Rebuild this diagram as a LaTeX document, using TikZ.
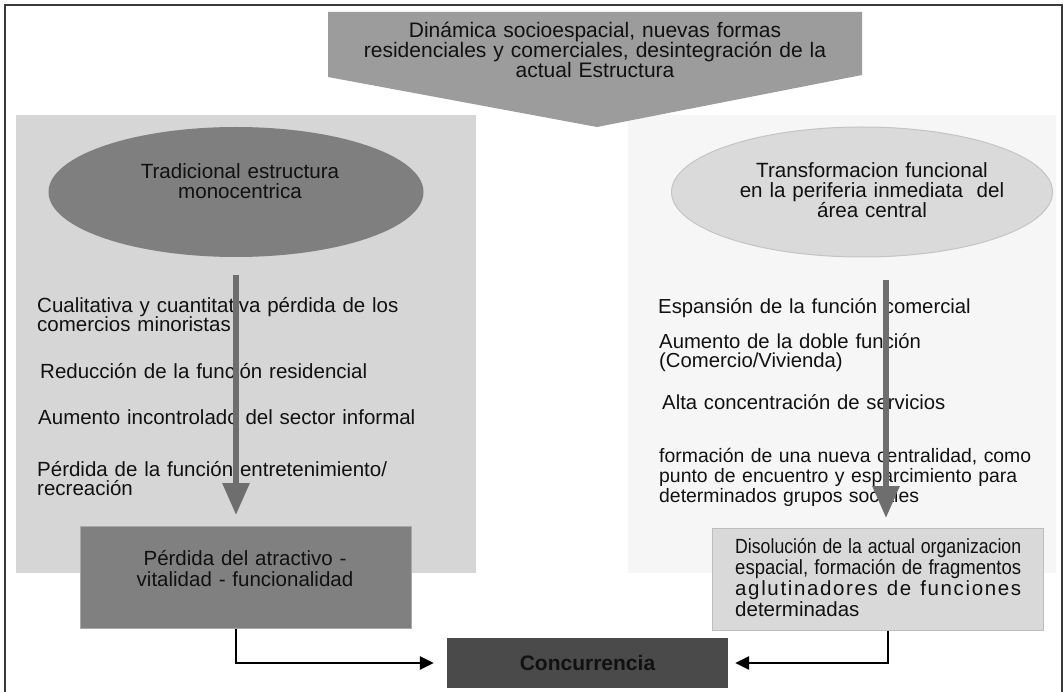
\documentclass[tikz,border=0pt]{standalone}
\usepackage{fontspec}
\setmainfont{Liberation Sans}
\usetikzlibrary{arrows.meta,shapes.geometric}
\definecolor{framec}{HTML}{3A3A3A}
\definecolor{bannerc}{HTML}{9C9C9C}
\definecolor{panelL}{HTML}{D6D6D6}
\definecolor{panelR}{HTML}{F6F6F6}
\definecolor{ellL}{HTML}{7F7F7F}
\definecolor{ellR}{HTML}{DADADA}
\definecolor{ellRb}{HTML}{C4C4C4}
\definecolor{arrowc}{HTML}{6E6E6E}
\definecolor{boxLc}{HTML}{808080}
\definecolor{boxLb}{HTML}{A8A8A8}
\definecolor{boxRc}{HTML}{D9D9D9}
\definecolor{boxRb}{HTML}{BDBDBD}
\definecolor{concc}{HTML}{4A4A4A}
\definecolor{txt}{HTML}{111111}
\newcommand\sqline[1]{\resizebox{286pt}{\height}{#1}}
\begin{document}
\begin{tikzpicture}[x=1pt,y=-1pt,
  font=\fontsize{20.5}{20}\selectfont, text=txt,
  lst/.style={anchor=base west, inner sep=0pt, text width=440pt, align=left},
  ctr/.style={anchor=base, inner sep=0pt, text width=540pt, align=center},
  bigarrow/.style={draw=arrowc, line width=6pt, -{Triangle[length=32pt,width=26pt]}},
  conn/.style={draw=black, line width=2.5pt, -{Triangle[length=14pt,width=13pt]}}]
\useasboundingbox (0,0) rectangle (1064,692);
\fill[white] (0,0) rectangle (1064,692);
% frame
\draw[line width=2pt, framec] (5,692) -- (5,5) -- (1062,5) -- (1062,692);
% panels
\fill[panelL] (16,115) rectangle (476,573);
\fill[panelR] (628,115) rectangle (1056,573);
% banner
\fill[bannerc] (328,12) -- (862,12) -- (862,75) -- (597,127) -- (328,77) -- cycle;
\node[ctr, font=\fontsize{21}{20}\selectfont] (banner) at (595,38)
  {Dinámica socioespacial, nuevas formas\\residenciales y comerciales, desintegración de la\\actual Estructura};
% ellipses
\node[ellipse, fill=ellL, minimum width=375pt, minimum height=130pt, inner sep=0pt] (eL) at (236,192) {};
\node[ctr, text width=360pt, font=\fontsize{20.6}{20}\selectfont] (teL) at (240,179) {Tradicional estructura\\monocentrica};
\node[ellipse, fill=ellR, draw=ellRb, line width=1pt, minimum width=381pt, minimum height=130pt, inner sep=0pt] (eR) at (862,192) {};
\node[ctr, text width=360pt, font=\fontsize{20.6}{20}\selectfont] (teR) at (872,178) {Transformacion funcional\\en la periferia inmediata\ \ del\\área central};
% boxes
\node[fill=boxLc, draw=boxLb, line width=1pt, minimum width=331pt, minimum height=102pt, anchor=north west, inner sep=0pt] (bL) at (80,526) {};
\node[ctr, text width=320pt, font=\fontsize{20.5}{21}\selectfont] (tbL) at (245,565) {Pérdida del atractivo -\\vitalidad - funcionalidad};
\node[fill=boxRc, draw=boxRb, line width=1pt, minimum width=331pt, minimum height=102pt, anchor=north west, inner sep=0pt] (bR) at (712,528) {};
\node[lst, text width=290pt, font=\fontsize{20.5}{21.3}\selectfont] (tbR) at (735,553)
  {\sqline{Disolución de la actual organizacion}\\
   \sqline{espacial, formación de fragmentos}\\
   \makebox[286pt][l]{\addfontfeature{LetterSpace=8}aglutinadores\hfill{} de\hfill{} funciones}\\
   determinadas};
\node[fill=concc, minimum width=281pt, minimum height=50pt, inner sep=0pt, font=\bfseries\fontsize{21}{20}\selectfont] (conc) at (587.5,663) {Concurrencia};
% left list
\node[lst] (l1) at (37,312) {Cualitativa y cuantitativa pérdida de los\\comercios minoristas};
\node[lst] (l2) at (40,378) {Reducción de la función residencial};
\node[lst] (l3) at (38,424) {Aumento incontrolado del sector informal};
\node[lst, font=\fontsize{20.5}{19}\selectfont] (l4) at (37,476) {Pérdida de la función entretenimiento/\\recreación};
% right list
\node[lst, font=\fontsize{20.3}{19}\selectfont] (r1) at (658,313) {Espansión de la función comercial};
\node[lst, font=\fontsize{20.3}{19}\selectfont] (r2) at (659,348) {Aumento de la doble función\\(Comercio/Vivienda)};
\node[lst, font=\fontsize{20.3}{19}\selectfont] (r3) at (662,409) {Alta concentración de servicios};
\node[lst, font=\fontsize{19.4}{20}\selectfont] (r4) at (659,462) {formación de una nueva centralidad, como\\punto de encuentro y esparcimiento para\\determinados grupos sociales};
% vertical arrows
\coordinate (aL) at (236,275);
\coordinate (aR) at (886,280);
\draw[bigarrow, shorten >=11pt] (aL) -- (aL |- bL.north);
\draw[bigarrow, shorten >=10pt] (aR) -- (aR |- bR.north);
% connectors
\coordinate (cL) at (236,0);
\coordinate (cR) at (888,0);
\draw[conn, shorten >=13pt] (cL |- bL.south) |- (conc.west);
\draw[conn, shorten >=7pt] (cR |- bR.south) |- (conc.east);
\end{tikzpicture}
\end{document}
